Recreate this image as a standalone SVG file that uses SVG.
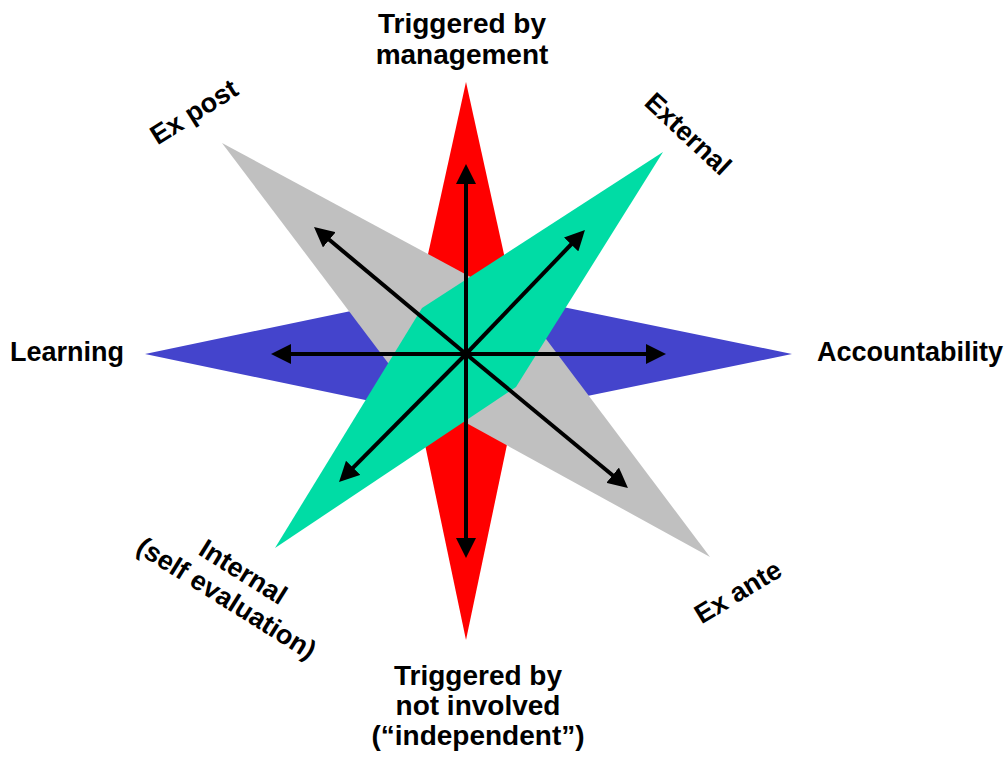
<svg xmlns="http://www.w3.org/2000/svg" width="1007" height="760" viewBox="0 0 1007 760">
<style>
.lbl{font-family:"Liberation Sans",Arial,sans-serif;font-weight:bold;font-size:27px;fill:#000}
.big{font-size:28px}
.mid{text-anchor:middle}
.arr{stroke:#000;stroke-width:4;fill:none;marker-end:url(#ah)}
</style>
<defs>
<marker id="ah" markerUnits="userSpaceOnUse" markerWidth="20" markerHeight="20" refX="2" refY="10" orient="auto">
<path d="M0,0 L20,10 L0,20 z" fill="#000"/>
</marker>
</defs>
<rect width="1007" height="760" fill="#fff"/>
<g id="star-red"><polygon points="466,82 526,354 466,640 406,354" fill="#ff0000"/></g>
<g id="star-blue"><polygon points="145,354 466,287 792,354 466,421" fill="#4444cc"/></g>
<g id="star-gray"><polygon points="222,143 519,303 710,557 410,392" fill="#c0c0c0"/></g>
<g id="star-green"><polygon points="275,548 422,308 663,152 516,387" fill="#00dca5"/></g>
<g id="connectors">
<line class="arr" x1="466" y1="354" x2="466" y2="182"/>
<line class="arr" x1="466" y1="354" x2="466" y2="540"/>
<line class="arr" x1="466" y1="354" x2="289" y2="354"/>
<line class="arr" x1="466" y1="354" x2="648" y2="354"/>
<line class="arr" x1="466" y1="354" x2="327.8" y2="238.5"/>
<line class="arr" x1="466" y1="354" x2="614.1" y2="476.5"/>
<line class="arr" x1="466" y1="354" x2="572.5" y2="243"/>
<line class="arr" x1="466" y1="354" x2="351.7" y2="469.2"/>
</g>
<g id="label-top"><text class="lbl big mid" x="462" y="33">Triggered by</text><text class="lbl big mid" x="462" y="64">management</text></g>
<g id="label-bottom"><text class="lbl big mid" x="478" y="685">Triggered by</text><text class="lbl big mid" x="478" y="715">not involved</text><text class="lbl big mid" x="478" y="745">(“independent”)</text></g>
<g id="label-left"><text class="lbl" x="10" y="361">Learning</text></g>
<g id="label-right"><text class="lbl" x="817" y="361">Accountability</text></g>
<g id="label-expost" transform="translate(194,112) rotate(-32)"><text class="lbl mid" x="0" y="9">Ex post</text></g>
<g id="label-external" transform="translate(688,134) rotate(43)"><text class="lbl mid" x="0" y="9">External</text></g>
<g id="label-exante" transform="translate(738,592) rotate(-31)"><text class="lbl mid" x="0" y="9">Ex ante</text></g>
<g id="label-internal" transform="translate(243,572) rotate(32)"><text class="lbl mid" x="0" y="9">Internal</text><text class="lbl mid" x="0" y="40">(self evaluation)</text></g>
</svg>
